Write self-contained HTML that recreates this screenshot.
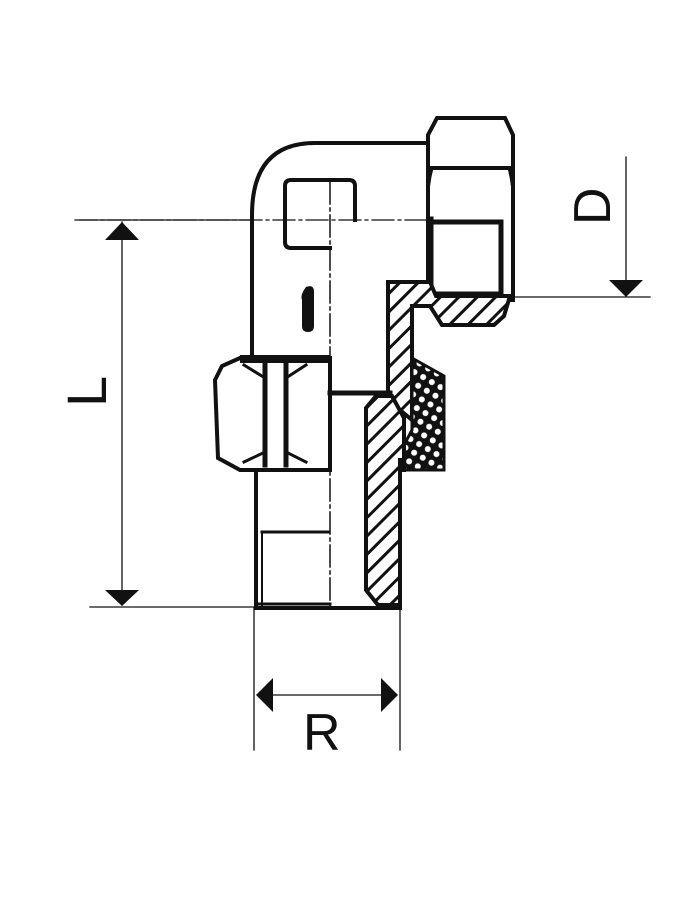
<!DOCTYPE html>
<html><head><meta charset="utf-8"><style>
html,body{margin:0;padding:0;background:#fff;width:700px;height:900px;overflow:hidden}
text{font-family:"Liberation Sans",sans-serif;fill:#111}
</style></head><body>
<svg width="700" height="900" viewBox="0 0 700 900" xmlns="http://www.w3.org/2000/svg">
<defs>
<pattern id="h" width="13" height="13" patternUnits="userSpaceOnUse" patternTransform="rotate(45)">
<rect width="13" height="13" fill="#fff"/><rect x="0" y="0" width="3" height="13" fill="#111"/></pattern>
<pattern id="k" width="10" height="10" patternUnits="userSpaceOnUse" patternTransform="rotate(30)">
<rect width="10" height="10" fill="#111"/><circle cx="5" cy="5" r="3" fill="#fff"/></pattern>
</defs>
<g stroke="#111" fill="none" stroke-linecap="square">
<line x1="75" y1="220" x2="505" y2="220" stroke-width="1.2" stroke-dasharray="22,4,3,4"/>
<line x1="330" y1="182" x2="330" y2="608" stroke-width="1.5" stroke-dasharray="22,4,3,4"/>
<path d="M252,357 L252,215 Q252,143 315,143 L428,143" stroke-width="4"/>
<path d="M330,248 L291,248 Q285,248 285,242 L285,186 Q285,180 291,180 L349,180 Q355,180 355,186 L355,220" stroke-width="4"/>
<path d="M306,287 Q314,284 314,292 L314,326 Q314,332 308,332 Q302,332 302,326 L302,300 Q300,295 306,287 Z" fill="#111" stroke="none"/>
<path d="M437,118 L505,118 L513,135 L513,300 L428,300 L428,135 Z" fill="#fff" stroke-width="4"/>
<line x1="430" y1="168" x2="511" y2="168" stroke-width="4"/>
<path d="M432,168 Q426,190 428,220 M509,168 Q515,190 513,220" stroke-width="3"/>
<rect x="431" y="222" width="70" height="72" stroke-width="5"/>
<line x1="430" y1="220" x2="430" y2="296" stroke-width="7"/>
<path d="M388,282 L430,282 L436,296 L510,296 L504,316 L494,325 L442,325 L430,306 L412,306 L412,360 L412,420 L388,400 Z" fill="url(#h)" stroke-width="4"/>
<path d="M412,358 L444,376 L444,470 L404,470 L404,445 L412,430 Z" fill="url(#k)" stroke-width="3"/>
<path d="M240,358 L330,358 L330,470 L240,470 L218,458 L215,380 L222,366 Z" fill="#fff" stroke-width="4"/>
<rect x="240" y="355" width="90" height="8" fill="#111" stroke="none"/>
<path d="M265,362 L265,465 M286,362 L286,465" stroke-width="5"/>
<path d="M244,365 L265,378 M306,365 L286,378 M244,462 L265,452 M306,462 L286,452" stroke-width="3"/>
<path d="M256,470 L256,608 L398,608" stroke-width="4"/>
<line x1="262" y1="532" x2="328" y2="532" stroke-width="3"/>
<line x1="262" y1="532" x2="262" y2="606" stroke-width="2"/>
<line x1="258" y1="604" x2="330" y2="604" stroke-width="3"/>
<line x1="330" y1="393" x2="390" y2="393" stroke-width="5"/>
<path d="M376,396 L392,396 L404,418 L404,470 L400,470 L400,605 L378,605 L366,590 L366,408 Z" fill="url(#h)" stroke-width="4"/>
<line x1="400" y1="460" x2="400" y2="608" stroke-width="4"/>
<g stroke-width="1.3">
<line x1="80" y1="220" x2="250" y2="220"/>
<line x1="90" y1="607" x2="255" y2="607"/>
<line x1="122" y1="222" x2="122" y2="605"/>
<line x1="510" y1="297" x2="650" y2="297"/>
<line x1="626" y1="157" x2="626" y2="295"/>
<line x1="254" y1="608" x2="254" y2="750"/>
<line x1="400" y1="608" x2="400" y2="750"/>
<line x1="258" y1="695" x2="396" y2="695"/>
</g>
</g>
<g fill="#111">
<polygon points="122,222 105,240 139,240"/>
<polygon points="122,606 105,590 139,590"/>
<polygon points="626,297 609,280 643,280"/>
<polygon points="256,695 273,678 273,712"/>
<polygon points="398,695 381,678 381,712"/>
</g>
<text x="0" y="0" font-size="56" transform="translate(106,407) rotate(-90)">L</text>
<text x="0" y="0" font-size="52" transform="translate(610,225) rotate(-90)">D</text>
<text x="303" y="750" font-size="52">R</text>
</svg>
</body></html>
